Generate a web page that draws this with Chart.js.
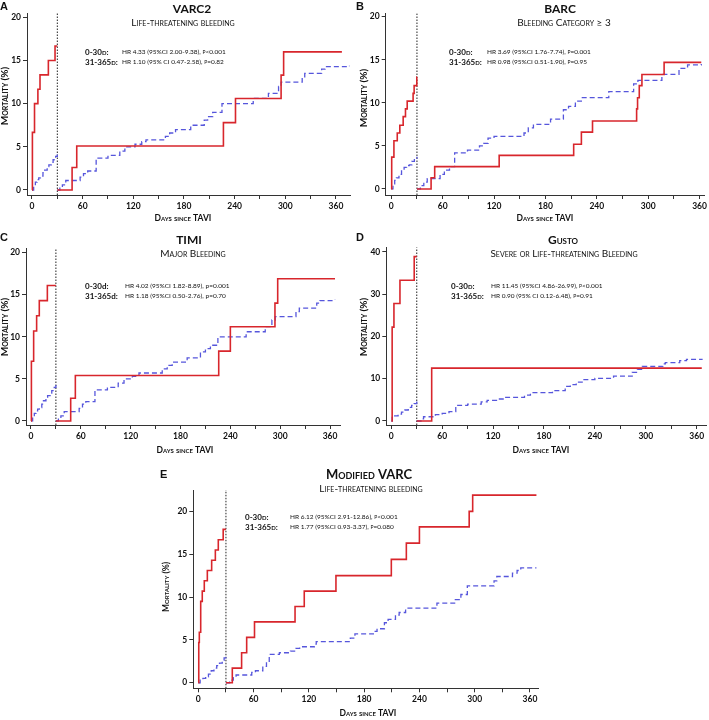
<!DOCTYPE html>
<html><head><meta charset="utf-8">
<script src="https://cdn.jsdelivr.net/npm/chart.js@4.4.1/dist/chart.umd.min.js"></script>
<style>
html,body{margin:0;padding:0;background:#fff;}
#wrap{position:relative;width:709px;height:720px;overflow:hidden;background:#fff;}
#wrap canvas{position:absolute;left:0;top:0;}
</style></head><body><div id="wrap"></div>
<script>
// ---------- DATA (days since TAVI, cumulative mortality %) ----------
const cutoffDay = 30;
const xTickDays = [0,30,60,90,120,150,180,210,240,270,300,330,360];
const xLabelDays = [0,60,120,180,240,300,360];
const yTicks20 = [0,5,10,15,20];
const yTicks40 = [0,10,20,30,40];

// Panel A  VARC2
const A_bleed_0_30 = [[0,0],[0.5,6.67],[3,10],[7,11.67],[9.5,13.33],[19.4,15],[27.3,16.67],[30,16.67]];
const A_bleed_31_365 = [[30,0],[47.5,2.6],[53,5.1],[226.7,7.8],[241,10.6],[295,13.3],[298,16],[367,16]];
const A_nobleed_0_30 = [[0,0],[2,0.5],[4,0.9],[6,1.2],[8,1.4],[10,1.6],[13,2.0],[15,2.3],[18,2.7],[20,2.9],[23,3.2],[25,3.5],[28,3.9],[30,4.1]];
const A_nobleed_31_365 = [[30,0],[33,0.3],[36,0.6],[40,1.1],[57,1.5],[61,1.9],[66,2.2],[76,3.7],[90,4.0],[104,4.5],[110,5.0],[122,5.3],[130,5.6],[135,5.8],[158,6.2],[163,6.6],[170,7.0],[188,7.5],[204,8.1],[208,8.5],[214,9.0],[225,10.0],[262,10.6],[280,11.2],[292,12.0],[295,12.5],[320,13.0],[323,13.5],[343,14.0],[347,14.3],[376,14.4]];

// Panel B  BARC
const B_bleed_0_30 = [[0,0],[0.5,3.7],[3.1,5.6],[7,6.5],[10,7.4],[13.9,8.4],[16.6,9.3],[18.6,10.2],[25.5,11.1],[26.7,12.0],[29.8,13.0],[30,13.0]];
const B_bleed_31_365 = [[30,0],[46.5,1.3],[50.7,2.6],[126,3.9],[213,5.2],[222,6.6],[235,7.9],[286.5,9.3],[287.6,10.6],[289.6,12.0],[292.7,13.3],[318.6,14.7],[362,14.7]];
const B_nobleed_0_30 = [[0,0],[2,0.6],[4,1.0],[6,1.3],[9,1.7],[12,2.1],[15,2.5],[18,2.7],[21,2.8],[24,3.2],[27,3.5],[30,3.75]];
const B_nobleed_31_365 = [[30,0],[34,0.4],[38,0.8],[42,1.2],[57,1.7],[62,2.2],[68,2.6],[74,4.2],[89,4.5],[103,5.0],[108,5.3],[113,5.9],[120,6.1],[155,6.5],[160,7.1],[166,7.5],[186,8.1],[201,9.2],[207,9.6],[215,10.2],[222,10.6],[254,11.3],[283,12.2],[288,12.6],[316,13.3],[336,14.0],[346,14.4],[362,14.5]];

// Panel C  TIMI
const C_bleed_0_30 = [[0,0],[0.5,7.1],[3.2,10.7],[6.8,12.5],[10,14.3],[19.7,16.1],[30,16.1]];
const C_bleed_31_365 = [[30,0],[47.8,2.7],[53.4,5.4],[226,8.3],[240,11.2],[293.7,14.0],[297,16.9],[366,16.9]];
const C_nobleed_0_30 = [[0,0],[2,0.5],[4,0.9],[6,1.2],[8,1.4],[10,1.6],[13,2.0],[15,2.4],[18,2.8],[20,3.0],[23,3.3],[25,3.6],[28,4.0],[30,4.3]];
const C_nobleed_31_365 = [[30,0],[33,0.3],[36,0.6],[40,1.1],[58,1.5],[62,2.0],[66,2.3],[77,3.7],[92,4.0],[105,4.5],[112,5.0],[122,5.3],[130,5.7],[158,6.2],[164,6.6],[170,7.0],[188,7.5],[204,8.2],[210,8.6],[216,9.0],[225,10.0],[259,10.6],[282,11.2],[290,12.0],[294,12.4],[319,13.0],[323,13.4],[344,14.0],[348,14.3],[366,14.4]];

// Panel D  GUSTO
const D_bleed_0_30 = [[0,0],[1,22.2],[3.1,27.8],[10.2,33.3],[27,38.9],[30,38.9]];
const D_bleed_31_365 = [[30,0],[47.6,12.5],[366,12.5]];
const D_nobleed_0_30 = [[0,0],[1,1.0],[4,1.2],[8,1.6],[12,2.1],[16,2.6],[20,3.2],[24,3.7],[27,4.1],[30,4.6]];
const D_nobleed_31_365 = [[30,0],[35,0.5],[38,1.0],[52,1.5],[60,1.8],[68,2.2],[76,3.7],[90,4.0],[106,4.5],[113,4.9],[124,5.2],[134,5.6],[157,6.1],[164,6.7],[190,7.2],[205,8.2],[211,8.6],[218,9.2],[225,9.8],[240,10.1],[262,10.6],[284,11.5],[290,12.2],[296,12.9],[320,13.5],[323,13.8],[340,14.3],[348,14.6],[367,14.6]];

// Panel E  Modified VARC
const E_bleed_0_30 = [[0,0],[0.5,4.7],[1.1,5.9],[2.6,9.5],[4.3,10.7],[6.5,11.9],[9.8,13.1],[14.5,14.3],[18.5,15.5],[21.7,16.7],[27,17.9],[30,17.9]];
const E_bleed_31_365 = [[30,0],[36.9,1.7],[47,3.5],[52.5,5.3],[61,7.1],[105,8.9],[115,10.7],[149.4,12.5],[209.5,14.4],[225.8,16.3],[240,18.2],[294,20.0],[297.8,21.9],[367,21.9]];
const E_nobleed_0_30 = [[0,0],[2,0.3],[5,0.5],[8,0.7],[11,1.0],[14,1.4],[17,1.7],[20,2.0],[23,2.3],[26,2.6],[28,2.9],[30,3.1]];
const E_nobleed_31_365 = [[30,0],[34,0.3],[38,0.6],[41,0.9],[58,1.2],[62,1.4],[70,1.9],[74,2.4],[77,3.3],[88,3.5],[100,3.7],[106,4.0],[110,4.2],[126,4.5],[128,4.8],[165,5.2],[170,5.7],[190,6.0],[194,6.3],[202,7.0],[206,7.4],[214,7.9],[218,8.2],[225,8.7],[259,9.3],[279,9.7],[285,10.3],[292,11.3],[321,11.9],[324,12.4],[341,12.8],[346,13.1],[350,13.4],[367,13.4]];

// ---------- TEXT ----------
const yTitleText = 'Mortality (%)';
const xTitleText = 'Days since TAVI';
const lbl1 = '0-30d:';
const lbl2 = '31-365d:';

// ---------- STYLE / LAYOUT ----------
const RED = '#d8262c';
const BLUE = '#5656dc';
const FONT = 'Lato, "Open Sans", sans-serif';

const panels = [
  { letter:'A', title:'VARC2', subtitle:'Life-threatening bleeding',
    hr1:'HR 4.33 (95%CI 2.00-9.38), p<0.001', hr2:'HR 1.10 (95% CI 0.47-2.58), p=0.82', caps:true,
    red1:A_bleed_0_30, red2:A_bleed_31_365, blue1:A_nobleed_0_30, blue2:A_nobleed_31_365, yTicks:yTicks20,
    left:27, right:350, top:13, bottom:195, xMin:-5.9, xMax:376.6, yMin:-0.58, yMax:20.5,
    fs:{title:12, yt:10},
    pos:{letter:[0,7], title:[192,9], sub:[183,23], lab:85, hr:122, l1:52, l2:62, yt:[5,96], xt:[183,218]} },
  { letter:'B', title:'BARC', subtitle:'Bleeding Category \u2265 3',
    hr1:'HR 3.69 (95%CI 1.76-7.74), p=0.001', hr2:'HR 0.98 (95%CI 0.51-1.90), p=0.95', caps:true,
    red1:B_bleed_0_30, red2:B_bleed_31_365, blue1:B_nobleed_0_30, blue2:B_nobleed_31_365, yTicks:yTicks20,
    left:385.7, right:706, top:13.3, bottom:195, xMin:-6.5, xMax:365.5, yMin:-0.7, yMax:20.4,
    fs:{title:12, yt:10},
    pos:{letter:[356,7], title:[560,9], sub:[564,23], lab:449, hr:487, l1:52, l2:62, yt:[364,98], xt:[545,218]} },
  { letter:'C', title:'TIMI', subtitle:'Major Bleeding',
    hr1:'HR 4.02 (95%CI 1.82-8.89), p=0.001', hr2:'HR 1.18 (95%CI 0.50-2.76), p=0.70', caps:false,
    red1:C_bleed_0_30, red2:C_bleed_31_365, blue1:C_nobleed_0_30, blue2:C_nobleed_31_365, yTicks:yTicks20,
    left:26, right:340, top:248.3, bottom:425, xMin:-6.0, xMax:372, yMin:-0.48, yMax:20.52,
    fs:{title:12, yt:10},
    pos:{letter:[0,237.5], title:[189,240], sub:[193,254], lab:85, hr:125, l1:286, l2:296, yt:[5,327], xt:[185,450]} },
  { letter:'D', title:'Gusto', subtitle:'Severe or Life-threatening Bleeding',
    hr1:'HR 11.45 (95%CI 4.86-26.99), p<0.001', hr2:'HR 0.90 (95% CI 0.12-6.48), p=0.91', caps:true,
    red1:D_bleed_0_30, red2:D_bleed_31_365, blue1:D_nobleed_0_30, blue2:D_nobleed_31_365, yTicks:yTicks40,
    left:386.3, right:706.7, top:247.3, bottom:425, xMin:-5.9, xMax:371.8, yMin:-0.95, yMax:41.1,
    fs:{title:12, yt:10},
    pos:{letter:[356,237.5], title:[563,240], sub:[564,254], lab:451, hr:491, l1:286, l2:296, yt:[364,327], xt:[541,450]} },
  { letter:'E', title:'Modified VARC', subtitle:'Life-threatening bleeding',
    hr1:'HR 6.12 (95%CI 2.91-12.86), p<0.001', hr2:'HR 1.77 (95%CI 0.93-3.37), p=0.080', caps:true,
    red1:E_bleed_0_30, red2:E_bleed_31_365, blue1:E_nobleed_0_30, blue2:E_nobleed_31_365, yTicks:yTicks20,
    left:193.3, right:538, top:490, bottom:688.3, xMin:-5.43, xMax:368.7, yMin:-0.65, yMax:22.5,
    fs:{title:13, yt:8.5},
    pos:{letter:[160,475], title:[369,475], sub:[371,489], lab:245, hr:290, l1:517, l2:527, yt:[166,587], xt:[368,713]} }
];

function toXY(pairs){ return pairs.map(p => ({x:p[0], y:p[1]})); }

function stepDs(pairs, color, width, dash){
  return { data: toXY(pairs), borderColor: color, borderWidth: width, borderDash: dash,
           pointRadius: 0, fill: false, stepped: 'before', tension: 0 };
}

function txt(ctx, s, x, y, font, align){
  ctx.font = font; ctx.textAlign = align || 'center'; ctx.textBaseline = 'middle';
  ctx.fillStyle = '#111'; ctx.fillText(s, x, y);
}

function textPlugin(p){
  return {
    id: 'panelText' + p.letter,
    afterDraw(chart){
      const ctx = chart.ctx, q = p.pos;
      const sc = p.caps ? 'small-caps ' : '';
      ctx.save();
      txt(ctx, p.letter, q.letter[0], q.letter[1], 'bold 11px "Liberation Sans", Arial, sans-serif', 'left');
      txt(ctx, p.title, q.title[0], q.title[1], 'small-caps bold ' + p.fs.title + 'px ' + FONT);
      txt(ctx, p.subtitle, q.sub[0], q.sub[1], 'small-caps 10px ' + FONT);
      txt(ctx, lbl1, q.lab, q.l1, sc + 'bold 8px ' + FONT, 'left');
      txt(ctx, lbl2, q.lab, q.l2, sc + 'bold 8px ' + FONT, 'left');
      txt(ctx, p.hr1, q.hr, q.l1, sc + '6.5px ' + FONT, 'left');
      txt(ctx, p.hr2, q.hr, q.l2, sc + '6.5px ' + FONT, 'left');
      txt(ctx, xTitleText, q.xt[0], q.xt[1], 'small-caps bold 8.5px ' + FONT);
      ctx.translate(q.yt[0], q.yt[1]);
      ctx.rotate(-Math.PI/2);
      txt(ctx, yTitleText, 0, 0, 'small-caps bold ' + p.fs.yt + 'px ' + FONT);
      ctx.restore();
    }
  };
}

const wrap = document.getElementById('wrap');
const YW = 24, XH = 20;

panels.forEach(p => {
  const cv = document.createElement('canvas');
  cv.width = 709; cv.height = 720;
  wrap.appendChild(cv);
  new Chart(cv, {
    type: 'line',
    data: { datasets: [
      stepDs(p.red1, RED, 1.6, []),
      stepDs(p.red2, RED, 1.6, []),
      stepDs(p.blue1, BLUE, 1.3, [5,3]),
      stepDs(p.blue2, BLUE, 1.3, [5,3]),
      { data: [{x:cutoffDay, y:p.yMin}, {x:cutoffDay, y:p.yMax}], borderColor:'#222', borderWidth:1,
        borderDash:[1.5,1.5], pointRadius:0, fill:false, stepped:false }
    ]},
    options: {
      responsive: false, animation: false, devicePixelRatio: 1,
      events: [],
      layout: { padding: { left: p.left - YW, top: p.top, right: 709 - p.right, bottom: 720 - p.bottom - XH } },
      plugins: { legend: {display:false}, tooltip: {enabled:false}, title: {display:false} },
      scales: {
        x: { type:'linear', min:p.xMin, max:p.xMax,
             afterFit: s => { s.height = XH; },
             afterBuildTicks: s => { s.ticks = xTickDays.map(v => ({value:v})); },
             ticks: { autoSkip:false, maxRotation:0, padding:2, color:'#111',
                      font:{family:FONT, size:8.5, weight:'bold'},
                      callback: v => xLabelDays.includes(v) ? String(v) : '' },
             grid: { drawOnChartArea:false, drawTicks:true, tickLength:4, color:'#333', lineWidth:1 },
             border: { display:true, color:'#333', width:1 } },
        y: { type:'linear', min:p.yMin, max:p.yMax,
             afterFit: s => { s.width = YW; },
             afterBuildTicks: s => { s.ticks = p.yTicks.map(v => ({value:v})); },
             ticks: { padding:2, color:'#111', font:{family:FONT, size:8.5, weight:'bold'},
                      callback: v => String(v) },
             grid: { drawOnChartArea:false, drawTicks:true, tickLength:4, color:'#333', lineWidth:1 },
             border: { display:true, color:'#333', width:1 } }
      }
    },
    plugins: [textPlugin(p)]
  });
});
</script>
</body></html>
